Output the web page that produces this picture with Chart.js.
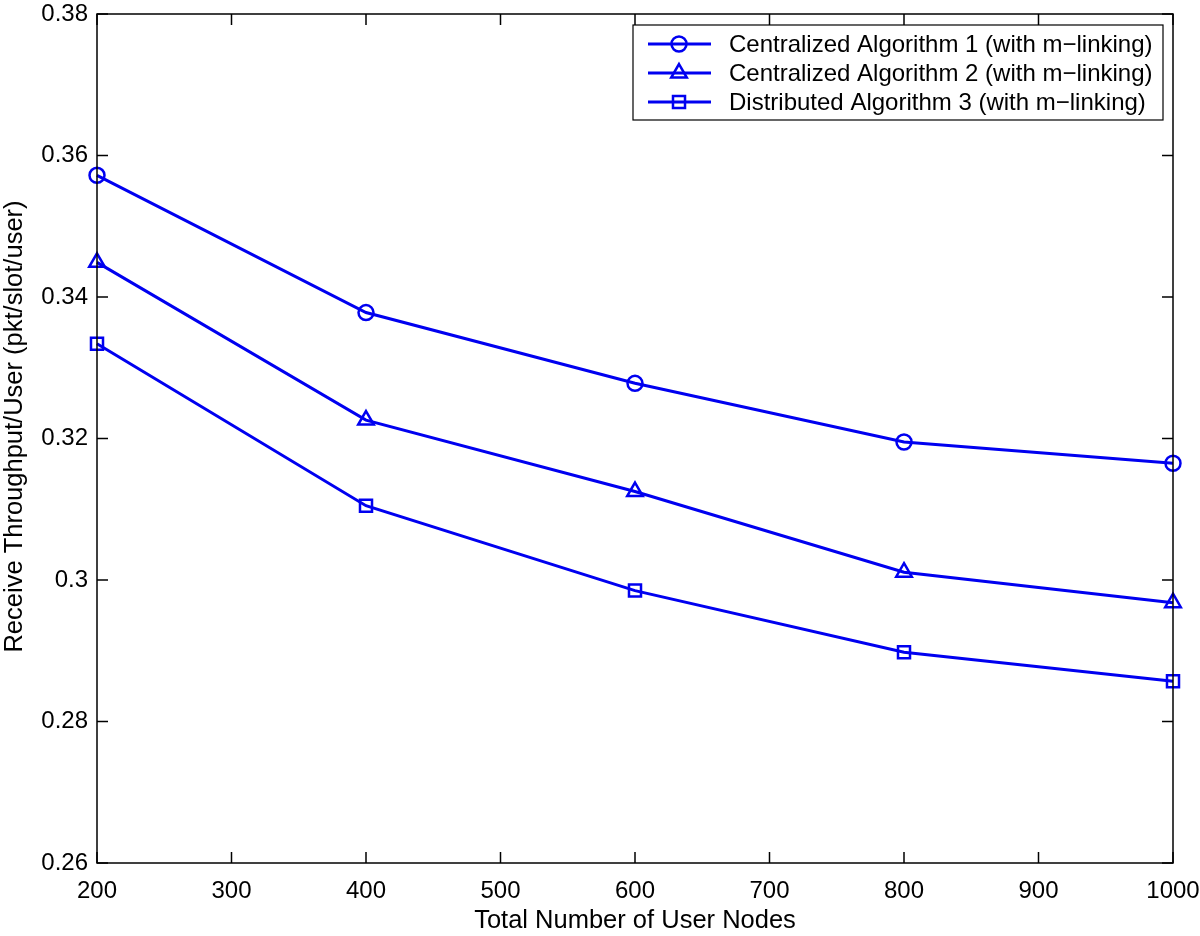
<!DOCTYPE html>
<html>
<head>
<meta charset="utf-8">
<script src="https://cdn.jsdelivr.net/npm/chart.js@4"></script>
<style>
    html, body { margin: 0; padding: 0; background: #fff; }
    #wrap { position: relative; width: 1200px; height: 936px; }
</style>
</head>
<body>
<div id="wrap"><canvas id="chart" width="1200" height="936"></canvas></div>
<script>
const nodes = [200, 400, 600, 800, 1000];
const alg1 = [0.3572, 0.3378, 0.3278, 0.3195, 0.3165];
const alg2 = [0.3449, 0.3226, 0.3125, 0.3011, 0.2968];
const alg3 = [0.3334, 0.3105, 0.2985, 0.2898, 0.2857];
const seriesNames = [
    'Centralized Algorithm 1 (with m\u2212linking)',
    'Centralized Algorithm 2 (with m\u2212linking)',
    'Distributed Algorithm 3 (with m\u2212linking)'
];
const yTickLabels = ['0.26', '0.28', '0.3', '0.32', '0.34', '0.36', '0.38'];
const xTickLabels = ['200', '300', '400', '500', '600', '700', '800', '900', '1000'];
const xTitle = 'Total Number of User Nodes';
const yTitle = 'Receive Throughput/User (pkt/slot/user)';

const blue = '#0000f0';
const font = 'Liberation Sans, Arial, Helvetica, sans-serif';

const toPoints = (vals) => vals.map((v, i) => ({ x: nodes[i], y: v }));

const makeSet = (label, vals, style, radius) => ({
    label: label,
    data: toPoints(vals),
    borderColor: blue,
    backgroundColor: 'rgba(0,0,0,0)',
    borderWidth: 3,
    pointStyle: style,
    pointRadius: radius,
    pointBorderWidth: 2.5,
    pointBorderColor: blue,
    pointBackgroundColor: 'rgba(0,0,0,0)',
    tension: 0,
    clip: false
});

// box, inward ticks on all four sides, y title and the legend
const matlabFrame = {
    id: 'matlabFrame',
    afterDraw(chart) {
        const ctx = chart.ctx;
        const area = chart.chartArea;
        const xs = chart.scales.x;
        const ys = chart.scales.y;
        const len = 11;
        ctx.save();
        ctx.strokeStyle = '#000';
        ctx.lineWidth = 1.5;
        ctx.strokeRect(area.left, area.top, area.right - area.left, area.bottom - area.top);
        ctx.beginPath();
        xs.ticks.forEach(t => {
            const px = xs.getPixelForValue(t.value);
            ctx.moveTo(px, area.bottom); ctx.lineTo(px, area.bottom - len);
            ctx.moveTo(px, area.top); ctx.lineTo(px, area.top + len);
        });
        ys.ticks.forEach(t => {
            const py = ys.getPixelForValue(t.value);
            ctx.moveTo(area.left, py); ctx.lineTo(area.left + len, py);
            ctx.moveTo(area.right, py); ctx.lineTo(area.right - len, py);
        });
        ctx.stroke();

        // y axis title, sits a little above the axis centre like the original
        ctx.save();
        ctx.translate(15, (area.top + area.bottom) / 2 - 12);
        ctx.rotate(-Math.PI / 2);
        ctx.font = '25.5px ' + font;
        ctx.fillStyle = '#000';
        ctx.textAlign = 'center';
        ctx.textBaseline = 'middle';
        ctx.fillText(yTitle, 0, 0);
        ctx.restore();

        // legend
        const bx = 633, by = 25, bw = 530, bh = 95;
        ctx.fillStyle = '#fff';
        ctx.fillRect(bx, by, bw, bh);
        ctx.lineWidth = 1.2;
        ctx.strokeRect(bx, by, bw, bh);
        ctx.font = '24px ' + font;
        ctx.textBaseline = 'middle';
        chart.data.datasets.forEach((ds, i) => {
            const y = by + 19 + i * 29;
            ctx.strokeStyle = blue;
            ctx.lineWidth = 3;
            ctx.beginPath();
            ctx.moveTo(bx + 15, y); ctx.lineTo(bx + 78, y);
            ctx.stroke();
            ctx.fillStyle = 'rgba(0,0,0,0)';
            ctx.lineWidth = 2.5;
            Chart.helpers.drawPoint(ctx, {
                pointStyle: ds.pointStyle,
                radius: ds.pointRadius,
                borderWidth: 2.5
            }, bx + 46, y);
            ctx.fillStyle = '#000';
            ctx.fillText(ds.label, bx + 96, y + 1);
        });
        ctx.restore();
    }
};

new Chart(document.getElementById('chart').getContext('2d'), {
    type: 'line',
    data: {
        datasets: [
            makeSet(seriesNames[0], alg1, 'circle', 7.5),
            makeSet(seriesNames[1], alg2, 'triangle', 9),
            makeSet(seriesNames[2], alg3, 'rect', 8.5)
        ]
    },
    options: {
        responsive: false,
        animation: false,
        events: [],
        layout: { padding: { top: 14, right: 27, left: 0, bottom: 0 } },
        plugins: {
            legend: { display: false },
            tooltip: { enabled: false }
        },
        scales: {
            x: {
                type: 'linear',
                min: 200,
                max: 1000,
                afterFit: (scale) => {
                    scale.height = 73;
                    scale.paddingLeft = 0;
                    scale.paddingRight = 0;
                },
                ticks: {
                    stepSize: 100,
                    padding: 14,
                    color: '#000',
                    font: { family: font, size: 24 },
                    maxRotation: 0,
                    autoSkip: false,
                    callback: (v, i) => xTickLabels[i]
                },
                grid: { display: false, drawTicks: false },
                border: { display: false },
                title: {
                    display: true,
                    text: xTitle,
                    color: '#000',
                    font: { family: font, size: 25.5 },
                    padding: { top: 0, bottom: 0 }
                }
            },
            y: {
                min: 0.26,
                max: 0.38,
                afterFit: (scale) => {
                    scale.width = 97;
                    scale.paddingTop = 0;
                    scale.paddingBottom = 0;
                },
                ticks: {
                    stepSize: 0.02,
                    padding: 9,
                    color: '#000',
                    font: { family: font, size: 24 },
                    callback: (v, i) => yTickLabels[i]
                },
                grid: { display: false, drawTicks: false },
                border: { display: false },
                title: { display: false }
            }
        }
    },
    plugins: [matlabFrame]
});
</script>
</body>
</html>
